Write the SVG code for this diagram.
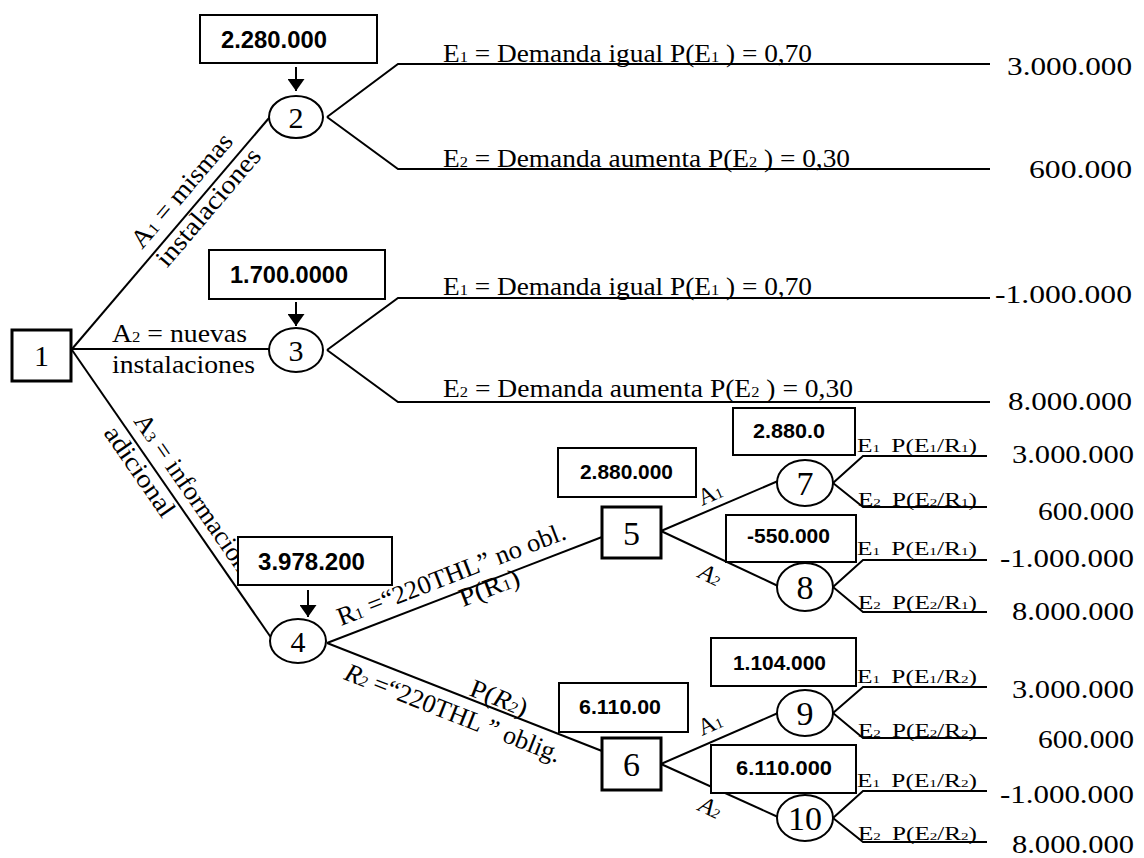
<svg xmlns="http://www.w3.org/2000/svg" width="1144" height="858" viewBox="0 0 1144 858">
<style>
.ln{stroke:#000;stroke-width:2;fill:none}
.ar{stroke:#000;stroke-width:2;fill:none;marker-end:url(#ah)}
.vb{fill:#fff;stroke:#000;stroke-width:2}
.db{fill:#fff;stroke:#000;stroke-width:3}
.ch{fill:#fff;stroke:#000;stroke-width:2}
.t{font-family:"Liberation Serif","Times New Roman",serif;font-size:26px;fill:#000}
.sm{font-family:"Liberation Serif","Times New Roman",serif;font-size:18px;fill:#000}
.n1{font-family:"Liberation Serif","Times New Roman",serif;font-size:30px;fill:#000;text-anchor:middle}
.n2{font-family:"Liberation Serif","Times New Roman",serif;font-size:34px;fill:#000;text-anchor:middle}
.v{font-family:"Liberation Sans",Arial,sans-serif;font-weight:bold;font-size:21px;fill:#000}
.vl{font-family:"Liberation Sans",Arial,sans-serif;font-weight:bold;font-size:23px;fill:#000}
.s{font-size:60%}
.it{font-style:italic}
</style>
<defs>
<marker id="ah" viewBox="0 0 12 17" markerWidth="12" markerHeight="17" refX="12" refY="8.5" orient="auto" markerUnits="userSpaceOnUse">
<path d="M0,0 L12,8.5 L0,17 z" fill="#000"/>
</marker>
</defs>

<g id="connectors">
<path class="ln" d="M72,349 L269,118"/>
<path class="ln" d="M72,349 L269,349"/>
<path class="ln" d="M72,350 L272,639"/>
<path class="ln" d="M327,117 L398,64 L990,64"/>
<path class="ln" d="M327,117 L398,169 L990,169"/>
<path class="ln" d="M327,350 L398,298 L990,298"/>
<path class="ln" d="M327,350 L398,402 L990,402"/>
<path class="ln" d="M327,643 L602,537"/>
<path class="ln" d="M327,643 L602,751"/>
<path class="ln" d="M661,531 L778,481"/>
<path class="ln" d="M661,531 L778,586"/>
<path class="ln" d="M833,483 L863,456 L987,456"/>
<path class="ln" d="M833,483 L863,507 L987,507"/>
<path class="ln" d="M833,587 L863,560 L987,560"/>
<path class="ln" d="M833,587 L863,612 L987,612"/>
<path class="ln" d="M661,764 L778,713"/>
<path class="ln" d="M661,764 L778,817"/>
<path class="ln" d="M833,713 L863,687 L987,687"/>
<path class="ln" d="M833,713 L863,738 L987,738"/>
<path class="ln" d="M833,818 L863,791 L987,791"/>
<path class="ln" d="M833,818 L863,842 L987,842"/>
<path class="ar" d="M296,67 L296,91"/>
<path class="ar" d="M296,302 L296,326"/>
<path class="ar" d="M308,590 L308,617"/>

<text class="t" transform="translate(142,250) rotate(-49.5)" textLength="142" lengthAdjust="spacingAndGlyphs">A<tspan class="s">1</tspan> = mismas</text>
<text class="t" transform="translate(167,268.5) rotate(-49.5)" textLength="147" lengthAdjust="spacingAndGlyphs">instalaciones</text>
<text class="t" x="112" y="342" textLength="135" lengthAdjust="spacingAndGlyphs">A<tspan class="s">2</tspan> = nuevas</text>
<text class="t" x="112" y="373" textLength="143" lengthAdjust="spacingAndGlyphs">instalaciones</text>
<text class="t" transform="translate(133,421) rotate(55.4)" textLength="186" lengthAdjust="spacingAndGlyphs">A<tspan class="s">3</tspan> = informacion</text>
<text class="t" transform="translate(103,433) rotate(55.4)" textLength="105" lengthAdjust="spacingAndGlyphs">adicional</text>
<text class="t" transform="translate(341,626) rotate(-21.1)" textLength="243" lengthAdjust="spacingAndGlyphs">R<tspan class="s">1</tspan> =“220THL” no obl.</text>
<text class="t" transform="translate(463,607) rotate(-21.1)" textLength="63" lengthAdjust="spacingAndGlyphs">P(R<tspan class="s">1</tspan>)</text>
<text class="t" transform="translate(343,679) rotate(21.4)" textLength="230" lengthAdjust="spacingAndGlyphs"><tspan class="it">R</tspan><tspan class="s it">2</tspan> =“220THL ” oblig.</text>
<text class="t" transform="translate(468,695) rotate(21.4)" textLength="60" lengthAdjust="spacingAndGlyphs">P(<tspan class="it">R</tspan><tspan class="s it">2</tspan>)</text>

<text class="t" x="443" y="62" textLength="369" lengthAdjust="spacingAndGlyphs">E<tspan class="s">1</tspan> = Demanda igual P(E<tspan class="s">1</tspan> ) = 0,70</text>
<text class="t" x="443" y="167" textLength="407" lengthAdjust="spacingAndGlyphs">E<tspan class="s">2</tspan> = Demanda aumenta P(E<tspan class="s">2</tspan> ) = 0,30</text>
<text class="t" x="443" y="295" textLength="369" lengthAdjust="spacingAndGlyphs">E<tspan class="s">1</tspan> = Demanda igual P(E<tspan class="s">1</tspan> ) = 0,70</text>
<text class="t" x="443" y="397" textLength="410" lengthAdjust="spacingAndGlyphs">E<tspan class="s">2</tspan> = Demanda aumenta P(E<tspan class="s">2</tspan> ) = 0,30</text>

<text class="t" transform="translate(702,506) rotate(-24)" style="font-size:24px">A<tspan class="s">1</tspan></text>
<text class="t it" transform="translate(697,577) rotate(26)" style="font-size:24px">A<tspan class="s">2</tspan></text>
<text class="t" transform="translate(702,736) rotate(-24)" style="font-size:24px">A<tspan class="s">1</tspan></text>
<text class="t it" transform="translate(697,810) rotate(25)" style="font-size:24px">A<tspan class="s">2</tspan></text>

<text class="sm" x="857" y="452" textLength="120" lengthAdjust="spacingAndGlyphs">E<tspan class="s">1</tspan><tspan dx="8">P(E</tspan><tspan class="s">1</tspan>/R<tspan class="s">1</tspan>)</text>
<text class="sm" x="858" y="506" textLength="119" lengthAdjust="spacingAndGlyphs">E<tspan class="s">2</tspan><tspan dx="8">P(E</tspan><tspan class="s">2</tspan>/R<tspan class="s">1</tspan>)</text>
<text class="sm" x="857" y="555" textLength="120" lengthAdjust="spacingAndGlyphs">E<tspan class="s">1</tspan><tspan dx="8">P(E</tspan><tspan class="s">1</tspan>/R<tspan class="s">1</tspan>)</text>
<text class="sm" x="858" y="609" textLength="119" lengthAdjust="spacingAndGlyphs">E<tspan class="s">2</tspan><tspan dx="8">P(E</tspan><tspan class="s">2</tspan>/R<tspan class="s">1</tspan>)</text>
<text class="sm" x="857" y="683" textLength="120" lengthAdjust="spacingAndGlyphs">E<tspan class="s">1</tspan><tspan dx="8">P(E</tspan><tspan class="s">1</tspan>/R<tspan class="s">2</tspan>)</text>
<text class="sm" x="858" y="737" textLength="119" lengthAdjust="spacingAndGlyphs">E<tspan class="s">2</tspan><tspan dx="8">P(E</tspan><tspan class="s">2</tspan>/R<tspan class="s">2</tspan>)</text>
<text class="sm" x="857" y="787" textLength="120" lengthAdjust="spacingAndGlyphs">E<tspan class="s">1</tspan><tspan dx="8">P(E</tspan><tspan class="s">1</tspan>/R<tspan class="s">2</tspan>)</text>
<text class="sm" x="858" y="840" textLength="119" lengthAdjust="spacingAndGlyphs">E<tspan class="s">2</tspan><tspan dx="8">P(E</tspan><tspan class="s">2</tspan>/R<tspan class="s">2</tspan>)</text>
</g>

<g id="payoffs">
<text class="t" x="1007" y="75" textLength="125" lengthAdjust="spacingAndGlyphs">3.000.000</text>
<text class="t" x="1029" y="178" textLength="103" lengthAdjust="spacingAndGlyphs">600.000</text>
<text class="t" x="995" y="303" textLength="137" lengthAdjust="spacingAndGlyphs">-1.000.000</text>
<text class="t" x="1008" y="410" textLength="124" lengthAdjust="spacingAndGlyphs">8.000.000</text>
<text class="t" x="1012" y="463" textLength="122" lengthAdjust="spacingAndGlyphs">3.000.000</text>
<text class="t" x="1038" y="520" textLength="96" lengthAdjust="spacingAndGlyphs">600.000</text>
<text class="t" x="1000" y="567" textLength="134" lengthAdjust="spacingAndGlyphs">-1.000.000</text>
<text class="t" x="1012" y="620" textLength="122" lengthAdjust="spacingAndGlyphs">8.000.000</text>
<text class="t" x="1012" y="698" textLength="122" lengthAdjust="spacingAndGlyphs">3.000.000</text>
<text class="t" x="1038" y="748" textLength="96" lengthAdjust="spacingAndGlyphs">600.000</text>
<text class="t" x="1000" y="803" textLength="134" lengthAdjust="spacingAndGlyphs">-1.000.000</text>
<text class="t" x="1012" y="853" textLength="122" lengthAdjust="spacingAndGlyphs">8.000.000</text>
</g>

<g id="node1"><rect class="db" x="12" y="330" width="59" height="51"/><text class="n1" x="41.5" y="366">1</text></g>
<g id="node2"><ellipse class="ch" cx="296" cy="117" rx="27" ry="21"/><text class="n1" x="296" y="128">2</text></g>
<g id="node3"><ellipse class="ch" cx="296" cy="350" rx="27" ry="22"/><text class="n1" x="296" y="361">3</text></g>
<g id="node4"><ellipse class="ch" cx="298" cy="641" rx="28" ry="22"/><text class="n1" x="298" y="652">4</text></g>
<g id="node5"><rect class="db" x="602" y="507" width="59" height="51"/><text class="n2" x="631.5" y="545">5</text></g>
<g id="node6"><rect class="db" x="602" y="738" width="59" height="52"/><text class="n2" x="631.5" y="776">6</text></g>
<g id="node7"><ellipse class="ch" cx="805" cy="483" rx="28" ry="23"/><text class="n2" x="805" y="495">7</text></g>
<g id="node8"><ellipse class="ch" cx="805" cy="587" rx="28" ry="24"/><text class="n2" x="805" y="599">8</text></g>
<g id="node9"><ellipse class="ch" cx="805" cy="713" rx="28" ry="23"/><text class="n2" x="805" y="725">9</text></g>
<g id="node10"><ellipse class="ch" cx="805" cy="818" rx="28" ry="23"/><text class="n2" x="805" y="830">10</text></g>

<g id="val2"><rect class="vb" x="200" y="15" width="177" height="48"/><text class="vl" x="221" y="48" textLength="106" lengthAdjust="spacingAndGlyphs">2.280.000</text></g>
<g id="val3"><rect class="vb" x="209" y="250" width="176" height="49"/><text class="vl" x="230" y="283" textLength="118" lengthAdjust="spacingAndGlyphs">1.700.0000</text></g>
<g id="val4"><rect class="vb" x="238" y="537" width="154" height="48"/><text class="vl" x="258" y="570" textLength="107" lengthAdjust="spacingAndGlyphs">3.978.200</text></g>
<g id="val5"><rect class="vb" x="558" y="448" width="138" height="49"/><text class="v" x="580" y="479" textLength="93" lengthAdjust="spacingAndGlyphs">2.880.000</text></g>
<g id="val6"><rect class="vb" x="559" y="683" width="129" height="49"/><text class="v" x="579" y="714" textLength="82" lengthAdjust="spacingAndGlyphs">6.110.00</text></g>
<g id="val7"><rect class="vb" x="733" y="408" width="122" height="47"/><text class="v" x="753" y="438" textLength="72" lengthAdjust="spacingAndGlyphs">2.880.0</text></g>
<g id="val8"><rect class="vb" x="726" y="515" width="130" height="47"/><text class="v" x="747" y="543" textLength="83" lengthAdjust="spacingAndGlyphs">-550.000</text></g>
<g id="val9"><rect class="vb" x="711" y="638" width="145" height="48"/><text class="v" x="733" y="670" textLength="93" lengthAdjust="spacingAndGlyphs">1.104.000</text></g>
<g id="val10"><rect class="vb" x="711" y="745" width="145" height="48"/><text class="v" x="736" y="775" textLength="96" lengthAdjust="spacingAndGlyphs">6.110.000</text></g>
</svg>
